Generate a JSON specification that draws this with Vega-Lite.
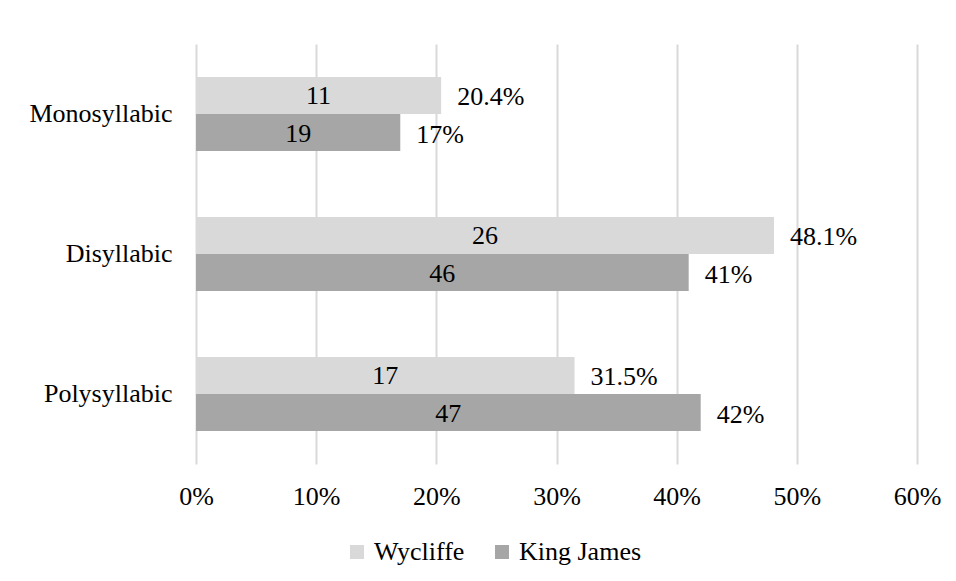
{
  "$schema": "https://vega.github.io/schema/vega-lite/v6.json",
  "width": 721,
  "height": 420,
  "autosize": "none",
  "padding": {"left": 196, "top": 44, "right": 39, "bottom": 117},
  "background": "white",
  "config": {
    "font": "Liberation Serif",
    "view": {"stroke": null},
    "text": {"font": "Liberation Serif", "fontSize": 26, "color": "#000000"}
  },
  "data": {
    "values": [
      {"category": "Monosyllabic", "version": "Wycliffe", "pct": 0.204, "count": 11, "plabel": "20.4%"},
      {"category": "Monosyllabic", "version": "King James", "pct": 0.17, "count": 19, "plabel": "17%"},
      {"category": "Disyllabic", "version": "Wycliffe", "pct": 0.481, "count": 26, "plabel": "48.1%"},
      {"category": "Disyllabic", "version": "King James", "pct": 0.41, "count": 46, "plabel": "41%"},
      {"category": "Polysyllabic", "version": "Wycliffe", "pct": 0.315, "count": 17, "plabel": "31.5%"},
      {"category": "Polysyllabic", "version": "King James", "pct": 0.42, "count": 47, "plabel": "42%"}
    ]
  },
  "encoding": {
    "y": {
      "field": "category", "type": "nominal",
      "sort": ["Monosyllabic", "Disyllabic", "Polysyllabic"],
      "scale": {"paddingInner": 0.4714, "paddingOuter": 0.2357},
      "axis": {"title": null, "domain": false, "ticks": false, "labelPadding": 24, "labelFontSize": 26, "labelFont": "Liberation Serif", "labelColor": "#000000", "grid": false}
    },
    "yOffset": {"field": "version", "type": "nominal", "sort": ["Wycliffe", "King James"]}
  },
  "layer": [
    {
      "mark": {"type": "bar"},
      "encoding": {
        "x": {
          "field": "pct", "type": "quantitative",
          "scale": {"domain": [0, 0.6], "nice": false},
          "axis": {"title": null, "format": "%", "values": [0, 0.1, 0.2, 0.3, 0.4, 0.5, 0.6], "domain": false, "ticks": false, "labelPadding": 19, "labelFlush": false, "labelOverlap": false, "labelFontSize": 26, "labelFont": "Liberation Serif", "labelColor": "#000000", "grid": true, "gridColor": "#d9d9d9", "gridWidth": 2}
        },
        "color": {
          "field": "version", "type": "nominal",
          "sort": ["Wycliffe", "King James"],
          "scale": {"domain": ["Wycliffe", "King James"], "range": ["#d9d9d9", "#a6a6a6"]},
          "legend": {
            "title": null, "orient": "none", "direction": "horizontal",
            "legendX": 148, "legendY": 495,
            "symbolType": "square", "symbolSize": 196, "symbolStrokeWidth": 0,
            "labelFontSize": 26, "labelFont": "Liberation Serif", "labelColor": "#000000",
            "labelOffset": 4, "columnPadding": 24
          }
        }
      }
    },
    {
      "mark": {"type": "text", "align": "center", "baseline": "middle", "dy": 1},
      "encoding": {
        "x": {"field": "pct", "type": "quantitative", "scale": {"domain": [0, 1.2], "nice": false}, "axis": null},
        "text": {"field": "count", "type": "quantitative"}
      }
    },
    {
      "mark": {"type": "text", "align": "left", "baseline": "middle", "dx": 16, "dy": 2},
      "encoding": {
        "x": {"field": "pct", "type": "quantitative", "scale": {"domain": [0, 0.6], "nice": false}, "axis": null},
        "text": {"field": "plabel", "type": "nominal"}
      }
    }
  ],
  "resolve": {"scale": {"x": "independent"}}
}
